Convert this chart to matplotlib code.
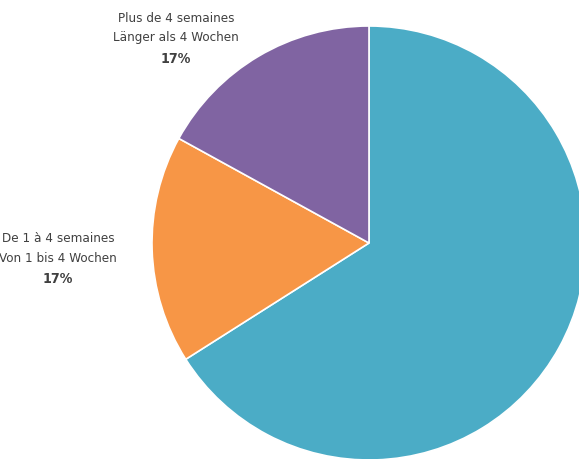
import matplotlib
matplotlib.use("Agg")
import matplotlib.pyplot as plt
from matplotlib import font_manager

# --- DATA ---
categories = ["Moins d'une semaine", "De 1 à 4 semaines", "Plus de 4 semaines"]
categories_de = ["Weniger als 1 Woche", "Von 1 bis 4 Wochen", "Länger als 4 Wochen"]
shares = [66, 17, 17]
colors = ["#4bacc6", "#f79646", "#8064a2"]

# prefer a condensed face, like the original chart
fam, stretch, fs = 'Liberation Sans', 'normal', 8.4
for cand in ['Liberation Sans Narrow', 'DejaVu Sans']:
    path = font_manager.findfont(font_manager.FontProperties(family=cand, stretch='condensed'),
                                 fallback_to_default=True)
    if 'Narrow' in path or 'Condensed' in path:
        fam, stretch, fs = cand, 'condensed', 9.6
        break
plt.rcParams['font.family'] = [fam, 'DejaVu Sans']
plt.rcParams['font.stretch'] = stretch

fig = plt.figure(figsize=(5.79, 4.59), dpi=100)
ax = fig.add_axes([0, 0, 1, 1])
ax.set_aspect('equal')
ax.axis('off')

ax.pie(shares, colors=colors, startangle=90, counterclock=False,
       center=(369, 216), radius=217,
       wedgeprops=dict(edgecolor='white', linewidth=1.2))
ax.set_xlim(0, 579)
ax.set_ylim(0, 459)

# label positions (label for the big slice falls outside the picture)
label_pos = {1: (58, 221), 2: (176, 441)}
txt_color = "#404040"
for i, (x, y) in label_pos.items():
    ax.text(x, y, categories[i], ha='center', va='center', fontsize=fs, color=txt_color)
    ax.text(x, y - 20, categories_de[i], ha='center', va='center', fontsize=fs, color=txt_color)
    ax.text(x, y - 41, f"{shares[i]}%", ha='center', va='center', fontsize=fs + 0.6,
            color=txt_color, fontweight='bold')

fig.savefig("out.png", dpi=100)
